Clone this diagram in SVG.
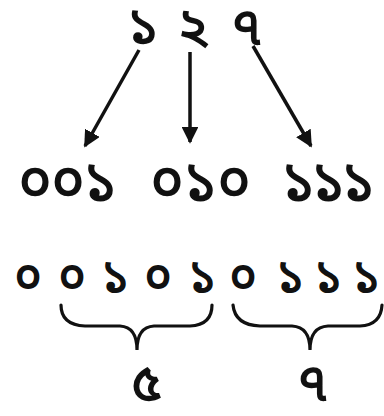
<svg xmlns="http://www.w3.org/2000/svg" width="384" height="416" viewBox="0 0 384 416">
<defs>
<marker id="ah" viewBox="0 0 10 10" refX="9" refY="5" markerWidth="4.8" markerHeight="4.8" orient="auto"><path d="M0,0 L10,5 L0,10 z" fill="#111"/></marker>
<style>
text{font-family:"Noto Sans Bengali","Noto Serif Bengali","Noto Sans","DejaVu Sans",sans-serif;fill:#111;stroke:#111;stroke-width:1.6;text-anchor:middle}
.t{font-size:52px}
.m{font-size:56px}
.s{font-size:46px}
.l{font-size:52px}
.br{fill:none;stroke:#111;stroke-width:3.2;stroke-linecap:round}
.ar{stroke:#111;stroke-width:3.5;marker-end:url(#ah)}
</style>
</defs>
<rect width="384" height="416" fill="#fff"/>
<g id="top"><text class="t" x="143" y="44">১</text><text class="t" x="193" y="44">২</text><text class="t" x="247" y="44">৭</text></g>
<g id="connectors">
<line class="ar" x1="139" y1="50" x2="85" y2="146"/>
<line class="ar" x1="190" y1="52" x2="190" y2="142"/>
<line class="ar" x1="253" y1="46" x2="311" y2="146"/>
</g>
<g id="g1"><text class="m" x="35" y="200">০</text><text class="m" x="68" y="200">০</text><text class="m" x="100" y="200">১</text></g>
<g id="g2"><text class="m" x="167" y="200">০</text><text class="m" x="200" y="200">১</text><text class="m" x="234" y="200">০</text></g>
<g id="g3"><text class="m" x="298" y="200">১</text><text class="m" x="328" y="200">১</text><text class="m" x="358" y="200">১</text></g>
<g id="row"><text class="s" x="28" y="292">০</text><text class="s" x="72" y="292">০</text><text class="s" x="115" y="292">১</text><text class="s" x="158" y="292">০</text><text class="s" x="202" y="292">১</text><text class="s" x="243" y="292">০</text><text class="s" x="290" y="292">১</text><text class="s" x="328" y="292">১</text><text class="s" x="366" y="292">১</text></g>
<g id="brace1"><path class="br" d="M61,305 Q61,325 85,326 L120,326 Q137,327 137,350 Q137,327 154,326 L190,326 Q212,325 212,305"/></g>
<g id="brace2"><path class="br" d="M233,305 Q235,325 260,326 L292,326 Q310,327 310,350 Q310,327 328,326 L360,326 Q381,325 382,305"/></g>
<g id="lab"><text class="l" x="147" y="400">৫</text><text class="l" x="313" y="400">৭</text></g>
</svg>
